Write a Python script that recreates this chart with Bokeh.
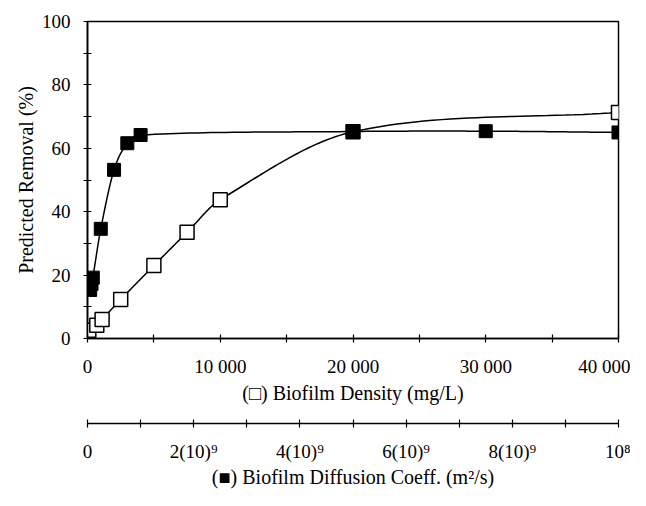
from bokeh.plotting import figure
from bokeh.models import Range1d, LinearAxis, FixedTicker, Title
from bokeh.embed import file_html
from bokeh.resources import INLINE

# ---------------- data ----------------
density = [100, 700, 1100, 2500, 5000, 7500, 10000, 20000, 40000]        # mg/L
removal_density = [2.6, 4.2, 6.0, 12.3, 23.0, 33.5, 43.8, 65.2, 71.3]     # %

diffusion = [0.05, 0.075, 0.1, 0.25, 0.5, 0.75, 1.0, 5.0, 7.5, 10.0]      # units of 1e-9 m2/s
removal_diffusion = [15.3, 17.2, 19.2, 34.6, 53.2, 61.6, 64.2, 65.3, 65.4, 65.0]  # %

x1_ticks = [0, 10000, 20000, 30000, 40000]
x1_labels = ["0", "10 000", "20 000", "30 000", "40 000"]
x1_minor = [5000, 15000, 25000, 35000]
x2_ticks = [0, 2, 4, 6, 8, 10]
x2_labels = ["0", "2(10)\u2079", "4(10)\u2079", "6(10)\u2079", "8(10)\u2079", "10\u2078"]
x2_minor = [1, 3, 5, 7, 9]
y_ticks = [0, 20, 40, 60, 80, 100]
y_minor = [10, 30, 50, 70, 90]

FONT = "Liberation Serif"


def smooth(xs, ys, n=30):
    """Cubic Hermite curve through the points, tangents from neighbouring points."""
    N = len(xs)
    h = [xs[i + 1] - xs[i] for i in range(N - 1)]
    d = [(ys[i + 1] - ys[i]) / h[i] for i in range(N - 1)]
    m = [d[0]] + [(ys[i + 1] - ys[i - 1]) / (xs[i + 1] - xs[i - 1]) for i in range(1, N - 1)] + [d[-1]]
    ox, oy = [], []
    for i in range(N - 1):
        for k in range(n + (1 if i == N - 2 else 0)):
            t = k / n
            h00 = 2 * t ** 3 - 3 * t ** 2 + 1
            h10 = t ** 3 - 2 * t ** 2 + t
            h01 = -2 * t ** 3 + 3 * t ** 2
            h11 = t ** 3 - t ** 2
            ox.append(xs[i] + t * h[i])
            oy.append(h00 * ys[i] + h10 * h[i] * m[i] + h01 * ys[i + 1] + h11 * h[i] * m[i + 1])
    return ox, oy


p = figure(width=630, height=490, output_backend="svg", toolbar_location=None,
           x_range=Range1d(0, 40000), y_range=Range1d(0, 100),
           min_border_left=87, min_border_right=12, min_border_top=21, min_border_bottom=0)
p.extra_x_ranges = {"diff": Range1d(0, 10)}
p.grid.visible = False
p.outline_line_color = "black"
p.outline_line_width = 1.5
p.background_fill_color = "white"
p.border_fill_color = "white"


def style(ax):
    ax.axis_line_width = 1.6
    ax.axis_line_color = "black"
    ax.major_tick_in = 4; ax.major_tick_out = 4
    ax.minor_tick_in = 4; ax.minor_tick_out = 4
    ax.major_tick_line_width = 1.2; ax.minor_tick_line_width = 1.2
    ax.major_label_text_font = FONT
    ax.major_label_text_font_size = "19px"
    ax.major_label_text_color = "black"
    ax.axis_label_text_font = FONT
    ax.axis_label_text_font_size = "20px"
    ax.axis_label_text_font_style = "normal"
    ax.axis_label_text_color = "black"


# y axis
ya = p.yaxis[0]
ya.ticker = FixedTicker(ticks=y_ticks, minor_ticks=y_minor)
ya.axis_label = "Predicted Removal (%)"
style(ya)
ya.major_label_standoff = 13
ya.axis_label_standoff = 2

# primary x axis
xa = p.xaxis[0]
xa.ticker = FixedTicker(ticks=x1_ticks, minor_ticks=x1_minor)
xa.major_label_overrides = {t: l for t, l in zip(x1_ticks, x1_labels)}
xa.axis_label = "(\u25a1) Biofilm Density (mg/L)"
style(xa)
xa.major_label_standoff = 13
xa.axis_label_standoff = 2

# spacer between the two x axes
spacer = Title(text=" ", text_font_size="8px", standoff=6)
p.add_layout(spacer, "below")

# secondary x axis
xb = LinearAxis(x_range_name="diff", axis_label="(\u25a0) Biofilm Diffusion Coeff. (m\u00b2/s)")
xb.ticker = FixedTicker(ticks=x2_ticks, minor_ticks=x2_minor)
xb.major_label_overrides = {t: l for t, l in zip(x2_ticks, x2_labels)}
style(xb)
xb.major_label_standoff = 13
xb.axis_label_standoff = 1
p.add_layout(xb, "below")

# curves
cx, cy = smooth(density, removal_density)
p.line(cx, cy, line_color="black", line_width=1.5)
dx, dy = smooth(diffusion, removal_diffusion)
p.line(dx, dy, line_color="black", line_width=1.5, x_range_name="diff")

p.scatter(density, removal_density, marker="square", size=14, fill_color="white",
          line_color="black", line_width=1.5)
p.scatter(diffusion, removal_diffusion, marker="square", size=13, fill_color="black",
          line_color="black", line_width=1, x_range_name="diff")

open("out.html", "w").write(file_html(p, INLINE))
